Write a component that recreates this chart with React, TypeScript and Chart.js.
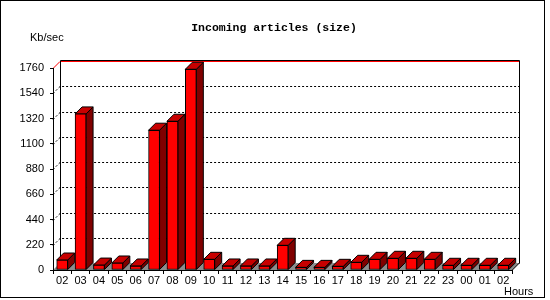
import React, { useEffect, useRef } from 'react';
import { Chart, registerables } from 'chart.js';

Chart.register(...registerables);

// ---- data ----
const hours = ['02', '03', '04', '05', '06', '07', '08', '09', '10', '11', '12', '13', '14', '15', '16', '17', '18', '19', '20', '21', '22', '23', '00', '01', '02'];
const kbPerSec = [87, 1360, 43, 61, 35, 1218, 1296, 1749, 93, 35, 35, 35, 215, 23, 23, 32, 67, 93, 102, 102, 93, 41, 41, 41, 41];
const yMin = 0;
const yMax = 1760;
const yStep = 220;
const titleText = 'Incoming articles (size)';
const yUnitText = 'Kb/sec';
const xUnitText = 'Hours';

const DEPTH = 7;
const LABEL_FONT = { family: '"Liberation Sans", Arial, sans-serif', size: 11 };

export default function App() {
  const ref = useRef<HTMLCanvasElement>(null);

  useEffect(() => {
    const canvas = ref.current;
    if (!canvas) return;

    const plugin = {
      id: 'inn3d',
      beforeDraw(chart: any) {
        const { ctx, chartArea: a, scales } = chart;
        const ys = scales.y;
        const L = a.left, R = a.right, T = a.top, B = a.bottom, D = DEPTH;
        ctx.save();
        ctx.fillStyle = '#ffffff';
        ctx.fillRect(0, 0, chart.width, chart.height);

        // frame
        ctx.strokeStyle = '#000';
        ctx.lineWidth = 1;
        ctx.strokeRect(0.5, 0.5, 544, 297);

        // texts
        ctx.fillStyle = '#000';
        ctx.font = 'bold 11.5px "Liberation Mono", monospace';
        ctx.textAlign = 'center';
        ctx.textBaseline = 'alphabetic';
        ctx.fillText(titleText, 274, 31);
        ctx.font = '11px "Liberation Sans", Arial, sans-serif';
        ctx.textAlign = 'left';
        ctx.fillText(yUnitText, 30, 41);
        ctx.fillText(xUnitText, 504, 295);

        // floor
        ctx.fillStyle = '#8c8c8c';
        ctx.beginPath();
        ctx.moveTo(L, B);
        ctx.lineTo(R, B);
        ctx.lineTo(R + D, B - D);
        ctx.lineTo(L + D, B - D);
        ctx.closePath();
        ctx.fill();

        // back-wall grid lines
        ys.ticks.forEach((t: any) => {
          if (t.value === yMin) return;
          const py = Math.round(ys.getPixelForValue(t.value)) + 0.5;
          ctx.beginPath();
          ctx.moveTo(L, py);
          ctx.lineTo(L + D, py - D);
          ctx.lineTo(R + D, py - D);
          if (t.value === yMax) {
            ctx.setLineDash([]);
            ctx.strokeStyle = '#ff0000';
          } else {
            ctx.setLineDash([2, 2]);
            ctx.strokeStyle = '#000';
          }
          ctx.stroke();
        });

        // wall edges
        ctx.setLineDash([]);
        ctx.strokeStyle = '#000';
        const bx = Math.round(L + D) + 0.5;
        const rx = Math.round(R + D) + 0.5;
        const ty = Math.round(T - D) - 0.5;
        const by = Math.round(B - D) + 0.5;
        ctx.beginPath();
        ctx.moveTo(bx, by);
        ctx.lineTo(bx, ty);
        ctx.lineTo(rx, ty);
        ctx.lineTo(rx, by);
        ctx.stroke();
        ctx.beginPath();
        ctx.moveTo(R, B);
        ctx.lineTo(R + D, B - D);
        ctx.stroke();
        ctx.restore();
      },
      beforeDatasetsDraw(chart: any) {
        const { ctx } = chart;
        const meta = chart.getDatasetMeta(0);
        const D = DEPTH;
        ctx.save();
        ctx.lineWidth = 1;
        ctx.strokeStyle = '#000';
        meta.data.forEach((bar: any) => {
          const { x, y, base, width } = bar.getProps(['x', 'y', 'base', 'width'], true);
          const l = x - width / 2;
          const r = x + width / 2;
          // side
          ctx.fillStyle = '#800000';
          ctx.beginPath();
          ctx.moveTo(r, y);
          ctx.lineTo(r + D, y - D);
          ctx.lineTo(r + D, base - D);
          ctx.lineTo(r, base);
          ctx.closePath();
          ctx.fill();
          ctx.stroke();
          // top
          ctx.fillStyle = '#c80000';
          ctx.beginPath();
          ctx.moveTo(l, y);
          ctx.lineTo(r, y);
          ctx.lineTo(r + D, y - D);
          ctx.lineTo(l + D, y - D);
          ctx.closePath();
          ctx.fill();
          ctx.stroke();
        });
        ctx.restore();
      },
    };

    const chart = new Chart(canvas, {
      type: 'bar',
      data: {
        labels: hours,
        datasets: [
          {
            data: kbPerSec,
            backgroundColor: '#ff0000',
            borderColor: '#000000',
            borderWidth: 1,
            borderSkipped: false,
            barThickness: 11,
          },
        ],
      },
      options: {
        responsive: false,
        devicePixelRatio: 1,
        animation: false,
        events: [],
        layout: { padding: { left: 0, right: 37.625, top: 68, bottom: 0 } },
        plugins: { legend: { display: false }, tooltip: { enabled: false }, title: { display: false } },
        scales: {
          x: {
            type: 'category',
            offset: true,
            grid: { display: true, drawOnChartArea: false, drawTicks: true, tickLength: 4, color: '#000', offset: true },
            border: { display: true, color: '#000' },
            ticks: { autoSkip: false, maxRotation: 0, minRotation: 0, padding: 0, color: '#000', font: LABEL_FONT },
            afterFit: (s: any) => { s.height = 30; },
          },
          y: {
            min: yMin,
            max: yMax,
            grid: { display: true, drawOnChartArea: false, drawTicks: true, tickLength: 3, color: '#000' },
            border: { display: true, color: '#000' },
            ticks: {
              stepSize: yStep,
              padding: 6,
              color: '#000',
              font: LABEL_FONT,
              callback: (v: any) => String(v),
            },
            afterFit: (s: any) => { s.width = 53; },
          },
        },
      },
      plugins: [plugin],
    } as any);

    return () => chart.destroy();
  }, []);

  return (
    <div style={{ position: 'absolute', left: 0, top: 0, width: 550, height: 300 }}>
      <canvas ref={ref} width={550} height={300} style={{ display: 'block', width: 550, height: 300 }} />
    </div>
  );
}
